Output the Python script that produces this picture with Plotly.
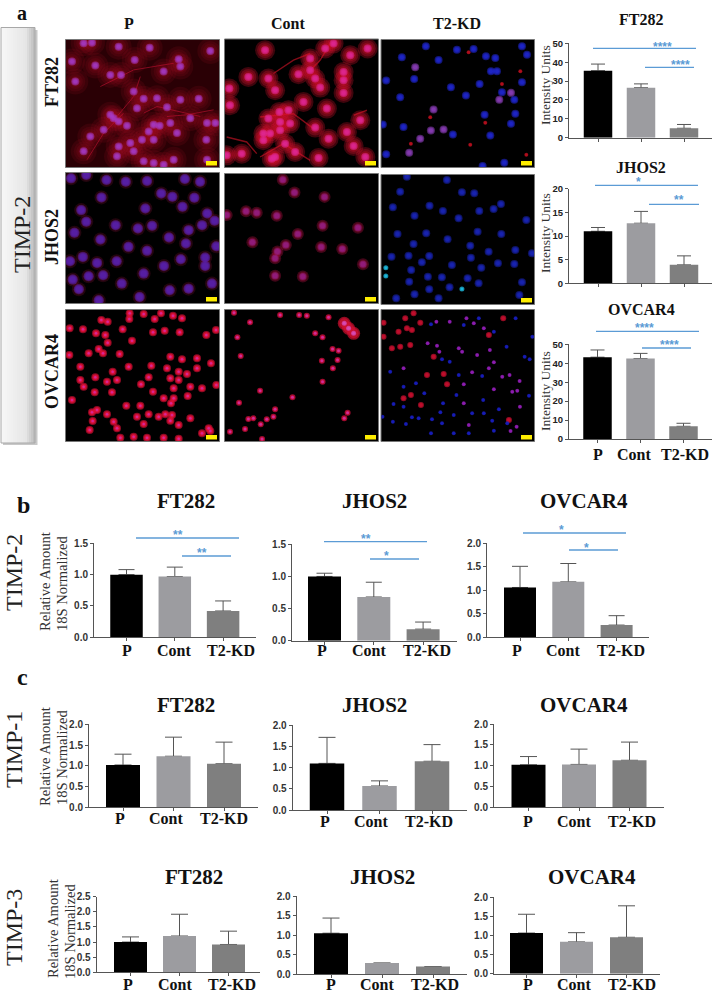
import plotly.graph_objects as go

W, H = 713, 992
SERIF = "Liberation Serif"
BLUE = "#5b9bd5"
AXC = "#555555"

CATEGORIES = ["P", "Cont", "T2-KD"]
BAR_COLORS = ["#000000", "#9c9ca0", "#7f7f7f"]

# ---- values: mean and top of the error bar
A_FT282_MEAN = [35.5, 26.5, 5.0]
A_FT282_TOP = [39.0, 28.5, 7.0]
A_JHOS2_MEAN = [11.0, 12.7, 3.9]
A_JHOS2_TOP = [11.8, 15.2, 5.8]
A_OVCAR4_MEAN = [43.2, 42.5, 6.7]
A_OVCAR4_TOP = [47.0, 45.2, 8.3]

B_FT282_MEAN = [1.0, 0.97, 0.42]
B_FT282_TOP = [1.08, 1.12, 0.58]
B_JHOS2_MEAN = [1.0, 0.68, 0.18]
B_JHOS2_TOP = [1.05, 0.91, 0.29]
B_OVCAR4_MEAN = [1.06, 1.18, 0.26]
B_OVCAR4_TOP = [1.51, 1.57, 0.46]

T1_FT282_MEAN = [1.02, 1.23, 1.05]
T1_FT282_TOP = [1.28, 1.69, 1.57]
T1_JHOS2_MEAN = [1.10, 0.57, 1.15]
T1_JHOS2_TOP = [1.71, 0.69, 1.54]
T1_OVCAR4_MEAN = [1.02, 1.03, 1.13]
T1_OVCAR4_TOP = [1.22, 1.40, 1.57]

T3_FT282_MEAN = [1.0, 1.2, 0.92]
T3_FT282_TOP = [1.17, 1.92, 1.36]
T3_JHOS2_MEAN = [1.05, 0.28, 0.19]
T3_JHOS2_TOP = [1.44, None, None]
T3_OVCAR4_MEAN = [1.06, 0.83, 0.95]
T3_OVCAR4_TOP = [1.55, 1.07, 1.77]

# ---- micrograph cell positions, read in image units
R1C1 = [(215,185),(250,130),(275,128),(355,140),(448,143),(535,178),(630,153),(403,180),(285,197),(330,225),(362,225),(225,245),(490,215),(540,200),(400,275),(430,297),(470,295),(540,300),(595,297),(410,325),(500,322),(570,355),(620,370),(340,355),(355,365),(330,345),(310,390),(380,378),(460,375),(478,378),(510,370),(445,395),(530,400),(618,420),(425,420),(390,430),(355,440),(270,410),(250,455),(460,420),(645,370),(400,455),(520,480),(430,485),(460,490),(490,495),(620,480),(350,470)]
R1C2 = [(135,150),(85,230),(28,265),(30,315),(145,235),(165,270),(235,222),(250,305),(285,235),(300,262),(320,325),(270,175),(315,145),(340,130),(390,165),(442,145),(370,215),(370,240),(370,278),(178,335),(145,355),(210,370),(180,390),(150,400),(285,382),(325,415),(380,395),(420,360),(400,437),(435,470),(295,473),(130,420),(65,460),(20,465),(155,475),(195,430),(225,455),(205,330),(180,365),(165,470),(270,210),(130,400)]
R1C3_BLUE = [(545,170),(617,137),(710,147),(760,145),(655,178),(797,167),(825,172),(812,212),(830,212),(905,137),(920,162),(498,240),(582,235),(692,260),(778,250),(737,285),(540,290),(845,275),(882,298),(905,245),(885,340),(793,343),(872,370),(550,380),(810,405),(698,402),(498,462),(787,497),(852,487),(488,372)]
R1C3_PINK = [(585,200),(640,327),(632,390),(670,387),(600,415),(567,457),(872,277),(837,298)]
R1C3_RED = [(745,155),(900,212),(845,250),(630,350),(795,367),(572,430),(750,433),(918,463)]
R2C1 = [(215,535),(260,525),(320,540),(377,545),(440,543),(552,537),(597,545),(482,580),(515,590),(580,593),(305,592),(545,620),(245,630),(435,625),(618,640),(260,665),(640,662),(225,698),(347,675),(413,685),(455,677),(302,718),(505,712),(563,690),(603,675),(645,738),(385,740),(440,752),(555,730),(212,783),(250,770),(292,788),(350,783),(540,777),(612,772),(490,797),(612,797),(430,820),(267,828),(310,825),(220,838),(238,867),(365,850),(507,870),(563,865),(632,850),(297,900),(418,890)]
R2C2 = [(188,538),(223,577),(313,590),(78,633),(110,638),(170,647),(20,645),(413,683),(307,677),(97,727),(233,702),(197,735),(303,741),(366,747),(172,755),(165,775),(428,793),(165,828),(248,830)]
R2C3 = [(560,530),(680,540),(540,575),(725,577),(762,580),(842,612),(820,627),(518,622),(628,617),(668,633),(583,647),(777,633),(715,655),(918,660),(532,702),(618,700),(682,718),(772,695),(843,702),(580,732),(750,737),(885,750),(514,770),(565,767),(627,768),(805,755),(752,773),(833,790),(882,792),(695,795),(605,787),(623,830),(573,810),(665,832),(783,803),(742,835),(905,847),(567,845),(688,862),(775,850),(627,868),(583,883),(528,895),(897,885),(655,895),(935,760)]
R2C3_CYAN = [(497,803),(497,828),(725,867)]
R3C1 = [(303,60),(322,65),(388,40),(430,42),(482,40),(518,47),(545,55),(463,57),(387,57),(248,88),(287,100),(315,105),(367,88),(208,85),(458,97),(493,92),(538,97),(618,105),(647,90),(395,122),(322,128),(295,147),(265,160),(207,165),(308,160),(358,162),(240,200),(385,200),(453,197),(500,205),(510,170),(545,178),(590,175),(632,190),(590,205),(337,215),(285,232),(240,240),(250,260),(320,245),(350,240),(445,232),(422,253),(458,275),(283,277),(335,277),(510,235),(535,215),(535,240),(560,222),(570,260),(605,265),(648,255),(215,300),(520,265),(562,288),(490,295),(520,295),(512,310),(378,317),(420,317),(275,337),(320,343),(290,330),(445,343),(495,343),(475,350),(515,345),(570,355),(410,350),(277,363),(340,365),(430,372),(510,362),(535,375),(268,390),(350,385),(625,385),(605,400),(360,413),(400,410),(440,413),(490,413),(535,416),(630,393)]
R3C2 = [(42,38),(90,67),(180,45),(237,45),(260,47),(325,52),(285,100),(307,112),(52,112),(62,168),(337,147),(355,152),(305,182),(352,180),(338,205),(307,245),(120,272),(217,292),(57,308),(165,328),(160,350),(140,358),(122,373),(100,355),(85,357),(75,387),(30,395),(372,355),(382,338),(126,417)]
R3C2_BIG = [(372,70),(385,85),(400,100)]
R3C3_RED = [(490,68),(490,110),(515,145),(540,140),(570,135),(535,95),(560,85),(600,68),(580,40),(555,55),(575,90),(640,170),(620,225),(670,222),(680,253),(805,105),(848,55),(572,285),(550,295),(865,360),(602,315)]
R3C3_PINK = [(648,65),(688,65),(738,55),(760,70),(790,85),(622,130),(650,137),(657,155),(715,145),(725,155),(770,165),(808,150),(820,187),(805,205),(755,217),(845,230),(867,225),(897,243),(890,272),(875,275),(820,268),(730,253),(730,310),(898,320),(550,205),(745,375),(870,393),(888,380)]
R3C3_BLUE = [(632,73),(730,75),(775,55),(885,55),(820,95),(858,140),(688,185),(665,178),(912,170),(927,178),(935,110),(510,215),(715,225),(785,228),(550,260),(587,250),(612,280),(708,285),(925,287),(550,320),(520,312),(668,310),(788,300),(835,328),(755,340),(790,340),(660,337),(700,345),(487,350),(518,365),(575,352),(595,355),(635,358),(557,372),(665,370),(815,362),(860,370),(820,392),(700,400),(632,400),(745,400)]

R1C1_FIBRES = [[(300,260),(400,210),(520,190)], [(260,480),(310,400),(370,340)], [(430,340),(470,320),(600,350)], [(350,350),(400,290),(420,230)], [(500,350),(560,345),(640,330)]]
R1C2_FIBRES = [[(160,220),(220,180),(270,160)], [(20,410),(80,425),(110,460)], [(400,345),(440,330)], [(270,210),(300,180),(330,130)], [(120,350),(220,340),(280,385)], [(120,470),(190,430),(270,480)]]

fig = go.Figure()
layout = dict(shapes=[], annotations=[])
n_axes = [0]


def X(px):
    return px / W


def Y(py):
    return 1 - py / H


def new_axes(x0, x1, ytop, ybot, xaxis, yaxis):
    n_axes[0] += 1
    n = n_axes[0]
    layout[f"xaxis{n}"] = dict(domain=[X(x0), X(x1)], anchor=f"y{n}", **xaxis)
    layout[f"yaxis{n}"] = dict(domain=[Y(ybot), Y(ytop)], anchor=f"x{n}", **yaxis)
    return f"x{n}", f"y{n}"


def text(s, px, py, size, bold=False, color="#111111", angle=0, family=SERIF):
    layout["annotations"].append(dict(
        text=s, x=X(px), y=Y(py), xref="paper", yref="paper", showarrow=False,
        xanchor="center", yanchor="middle", textangle=angle, borderpad=0,
        font=dict(family=family, size=size, color=color, weight="bold" if bold else "normal"),
    ))


def rect(x0, y0, x1, y1, fill, line=None):
    layout["shapes"].append(dict(
        type="rect", xref="paper", yref="paper", x0=X(x0), x1=X(x1), y0=Y(y0), y1=Y(y1),
        fillcolor=fill, line=dict(color=line or fill, width=1 if line else 0), layer="above" if fill == "#ffee00" else "below",
    ))


# ---- micrograph panels
def soft(ax, cells, color, sizes, opacity):
    """Stacked translucent discs, so a cell fades out at its rim."""
    for s in sizes:
        fig.add_trace(go.Scatter(
            x=[c[0] for c in cells], y=[c[1] for c in cells], xaxis=ax[0], yaxis=ax[1],
            mode="markers", cliponaxis=True, showlegend=False, hoverinfo="skip",
            marker=dict(color=color, size=s, opacity=opacity, line=dict(width=0)),
        ))


def fibres(ax, lines, color, width):
    for ln in lines:
        fig.add_trace(go.Scatter(
            x=[p[0] for p in ln], y=[p[1] for p in ln], xaxis=ax[0], yaxis=ax[1],
            mode="lines", showlegend=False, hoverinfo="skip", opacity=0.6,
            line=dict(color=color, width=width),
        ))


def micro(x0, x1, ytop, ybot, xr, yr, bg="#000000", barw=11):
    ax = new_axes(x0, x1, ytop, ybot,
                  dict(range=xr, visible=False, fixedrange=True),
                  dict(range=yr, visible=False, fixedrange=True))
    rect(x0 - 0.5, ytop - 0.5, x1 + 0.5, ybot + 0.5, bg, "#777777")
    rect(x1 - barw - 2, ybot - 6, x1 - 2, ybot - 1.5, "#ffee00")
    return ax


C1, C2, C3 = (66, 219), (225, 378), (381.5, 534)

a = micro(*C1, 40, 167, [197, 656], [502, 120], bg="#2a0005")
soft(a, R1C1, "#b00c28", (26, 20, 15, 11, 9), 0.13)
fibres(a, R1C1_FIBRES, "#c01030", 1)
soft(a, R1C1, "#a83cd0", (8, 6, 4), 0.5)

a = micro(*C2, 39.5, 167, [15, 473], [500, 118])
soft(a, R1C2, "#d0102a", (20, 16, 12, 9), 0.3)
fibres(a, R1C2_FIBRES, "#d81428", 1.4)
soft(a, R1C2, "#e02898", (8, 6, 4), 0.55)

a = micro(*C3, 40, 167, [484, 941], [500, 118])
soft(a, R1C3_RED, "#c01020", (4, 3), 0.7)
soft(a, R1C3_BLUE, "#2028d8", (8, 6, 4), 0.55)
soft(a, R1C3_PINK, "#9040c0", (8, 6, 4), 0.55)

a = micro(*C1, 173, 303, [200, 653], [908, 519], barw=11)
soft(a, R2C1, "#701030", (14, 11), 0.3)
soft(a, R2C1, "#5a20b0", (10, 8, 6), 0.55)

a = micro(*C2, 174, 303, [15, 473], [910, 521])
soft(a, R2C2, "#a0103c", (12, 9), 0.4)
soft(a, R2C2, "#9a2088", (7, 5), 0.6)

a = micro(*C3, 175, 304, [484, 941], [912, 525])
soft(a, R2C3, "#1c28c8", (8, 6, 4), 0.5)
soft(a, R2C3_CYAN, "#20c8ee", (5, 3), 0.7)

a = micro(*C1, 310, 441, [197, 656], [423, 30], barw=11)
soft(a, R3C1, "#e81038", (8, 6, 5), 0.6)
soft(a, R3C1, "#d828a0", (3, 2), 0.7)

a = micro(*C2, 310, 441, [15, 473], [423, 30])
soft(a, R3C2_BIG, "#d01030", (13, 10), 0.7)
soft(a, R3C2_BIG, "#d850c0", (5, 3), 0.7)
soft(a, R3C2, "#e01040", (6, 4), 0.7)
soft(a, R3C2, "#d030a0", (3, 2), 0.8)

a = micro(*C3, 310, 441, [484, 940], [423, 30])
soft(a, R3C3_RED, "#d01030", (6, 4), 0.7)
soft(a, R3C3_PINK, "#9a20c0", (4, 3), 0.7)
soft(a, R3C3_BLUE, "#1a20c8", (4, 3), 0.7)


# ---- bar charts
def bars(mean, top, x0, x1, ytop, ybot, ymax, dtick, tickfmt, c0, step, bw, cap, tickfont):
    ax = new_axes(
        x0, x1, ytop, ybot,
        dict(type="category", categoryorder="array", categoryarray=CATEGORIES,
             range=[(x0 - c0) / step, (x1 - c0) / step], showticklabels=False, ticks="outside",
             ticklen=3, tickcolor=AXC, showline=True, linecolor=AXC, linewidth=1,
             showgrid=False, zeroline=False, fixedrange=True),
        dict(range=[0, ymax], dtick=dtick, tickformat=tickfmt, ticks="outside", ticklen=3,
             tickcolor=AXC, showline=True, linecolor=AXC, linewidth=1, showgrid=False,
             zeroline=False, tickfont=tickfont, fixedrange=True),
    )
    errs = [0 if t is None else t - m for m, t in zip(mean, top)]
    # the whiskers sit in a clear trace under the bars, which hides their base caps
    fig.add_trace(go.Bar(
        x=CATEGORIES, y=mean, xaxis=ax[0], yaxis=ax[1], width=bw / step, showlegend=False,
        marker=dict(color="rgba(0,0,0,0)", line=dict(width=0)), hoverinfo="skip",
        error_y=dict(type="data", symmetric=False, array=errs, arrayminus=[0, 0, 0],
                     color=AXC, thickness=1, width=cap),
    ))
    fig.add_trace(go.Bar(
        x=CATEGORIES, y=mean, xaxis=ax[0], yaxis=ax[1], width=bw / step, showlegend=False,
        marker=dict(color=BAR_COLORS, line=dict(width=0)),
    ))


TF_A = dict(family="Liberation Sans", size=9.5, color="#222222", weight="bold")
TF_N = dict(family="Liberation Sans Narrow, Liberation Sans", size=10, color="#333333", weight="bold")

bars(A_FT282_MEAN, A_FT282_TOP, 569, 712, 43.3, 137.7, 50, 10, "d", 598, 43, 28.5, 7, TF_A)
bars(A_JHOS2_MEAN, A_JHOS2_TOP, 569, 712, 188.7, 283.3, 20, 5, "d", 598, 43, 28.5, 7, TF_A)
bars(A_OVCAR4_MEAN, A_OVCAR4_TOP, 569, 712, 344.3, 439, 50, 10, "d", 597.5, 43, 28.5, 7, TF_A)

bars(B_FT282_MEAN, B_FT282_TOP, 94, 256, 543.3, 637.3, 1.5, 0.5, ".1f", 126.5, 48.3, 32.5, 8, TF_N)
bars(B_JHOS2_MEAN, B_JHOS2_TOP, 292, 457, 544.3, 640.7, 1.5, 0.5, ".1f", 324.5, 49.3, 33, 8, TF_N)
bars(B_OVCAR4_MEAN, B_OVCAR4_TOP, 487, 649, 543.3, 637.3, 2.0, 0.5, ".1f", 520, 48.3, 32, 8, TF_N)

bars(T1_FT282_MEAN, T1_FT282_TOP, 89, 258, 724.3, 807.3, 2.0, 0.5, ".1f", 123, 50.5, 34, 8.5, TF_N)
bars(T1_JHOS2_MEAN, T1_JHOS2_TOP, 292.7, 467, 725, 810.3, 2.0, 0.5, ".1f", 327, 52.5, 34.5, 8.5, TF_N)
bars(T1_OVCAR4_MEAN, T1_OVCAR4_TOP, 494, 664, 724.3, 807, 2.0, 0.5, ".1f", 528.5, 50.5, 34, 8.5, TF_N)

bars(T3_FT282_MEAN, T3_FT282_TOP, 96.7, 260, 896.7, 972.3, 2.5, 0.5, ".1f", 130.5, 49, 33, 8.5, TF_N)
bars(T3_JHOS2_MEAN, T3_JHOS2_TOP, 296.7, 467, 896.3, 974, 2.0, 0.5, ".1f", 331, 51, 34, 8.5, TF_N)
bars(T3_OVCAR4_MEAN, T3_OVCAR4_TOP, 494, 660, 897, 973.7, 2.0, 0.5, ".1f", 526.5, 50, 33, 8.5, TF_N)


# ---- significance brackets
def sig(x0, x1, yl, stars, sx, sy):
    layout["shapes"].append(dict(type="line", xref="paper", yref="paper",
                                 x0=X(x0), x1=X(x1), y0=Y(yl), y1=Y(yl),
                                 line=dict(color=BLUE, width=1.3), layer="above"))
    text(stars, sx, sy + 2, 12, True, BLUE, family="Liberation Sans")


sig(593, 696, 48.3, "****", 662, 45)
sig(645, 694, 67.3, "****", 680, 62.7)
sig(595, 698, 185.3, "*", 638, 180)
sig(649, 699, 204.3, "**", 679, 198)
sig(596, 699, 331.3, "****", 644, 326)
sig(642, 691, 348, "****", 669, 343)
sig(136, 239, 538, "**", 178, 533)
sig(182, 231, 556, "**", 202, 551)
sig(324, 427, 541.7, "**", 366, 537)
sig(370, 419, 559, "*", 387, 554)
sig(523, 626, 533, "*", 561, 528)
sig(569, 618, 550, "*", 586, 546)


# ---- text
def cats(xs, y):
    for c, x in zip(CATEGORIES, xs):
        text(c, x, y, 16, True)


cats([598, 634, 685], 454)
cats([127, 174, 231], 650)
cats([322, 369, 427], 650)
cats([517, 563, 621], 650)
cats([120, 166, 224], 818)
cats([325, 371, 429], 821)
cats([528, 574, 632], 821)
cats([128, 175, 232], 984)
cats([331, 377, 435], 984)
cats([528, 574, 632], 984)

text("a", 22, 13, 20, True)
text("b", 23, 505, 24, True)
text("c", 22, 677, 24, True)

for s, x in zip(CATEGORIES, [129, 288, 457]):
    text(s, x, 23, 16, True)
for s, y in zip(["FT282", "JHOS2", "OVCAR4"], [82, 237, 372]):
    text(s, 52, y, 18, True, angle=-90)
for s, y in zip(["FT282", "JHOS2", "OVCAR4"], [19, 167, 309]):
    text(s, 641, y, 16, True)
for y in [85, 233, 391]:
    text("Intensity Units", 545, y, 13.5, color="#333333", angle=-90)

for y, xs in [(501, (186, 375, 584)), (705, (186, 375, 584)), (877, (194, 383, 592))]:
    for s, x in zip(["FT282", "JHOS2", "OVCAR4"], xs):
        text(s, x, y, 21, True)

text("TIMP-2", 22, 235, 24, color="#222222", angle=-90)
text("TIMP-2", 14, 573, 24, color="#222222", angle=-90)
text("TIMP-1", 14, 750, 24, color="#222222", angle=-90)
text("TIMP-3", 14, 928, 24, color="#222222", angle=-90)
for x1, x2, y1, y2 in [(45, 62, 582, 584), (45, 62, 757, 758), (53, 70, 929, 932)]:
    text("Relative Amount", x1, y1, 14.5, color="#333333", angle=-90)
    text("18S Normalized", x2, y2, 14.5, color="#333333", angle=-90)

# ---- grey side box
rect(3, 30, 37.5, 445, "#c8c8c8")
for i in range(17):
    t = i / 16
    v = 246 - int(22 * t) if t < 0.75 else 229 - int(165 * (t - 0.75))
    rect(1 + i * 2, 27.5, 3 + i * 2, 443, f"rgb({v},{v},{v})")
layout["shapes"].append(dict(type="rect", xref="paper", yref="paper", x0=X(1), x1=X(35), y0=Y(27.5), y1=Y(443),
                             line=dict(color="#a8a8a8", width=1), layer="below"))

fig.update_layout(
    width=W, height=H, margin=dict(l=0, r=0, t=0, b=0, autoexpand=False), autosize=False,
    paper_bgcolor="white", plot_bgcolor="rgba(0,0,0,0)", showlegend=False, barmode="overlay",
    **layout,
)
fig.write_html("out.html", post_script="document.body.style.margin='0';document.documentElement.style.overflow='hidden';",
               config=dict(displayModeBar=False))
